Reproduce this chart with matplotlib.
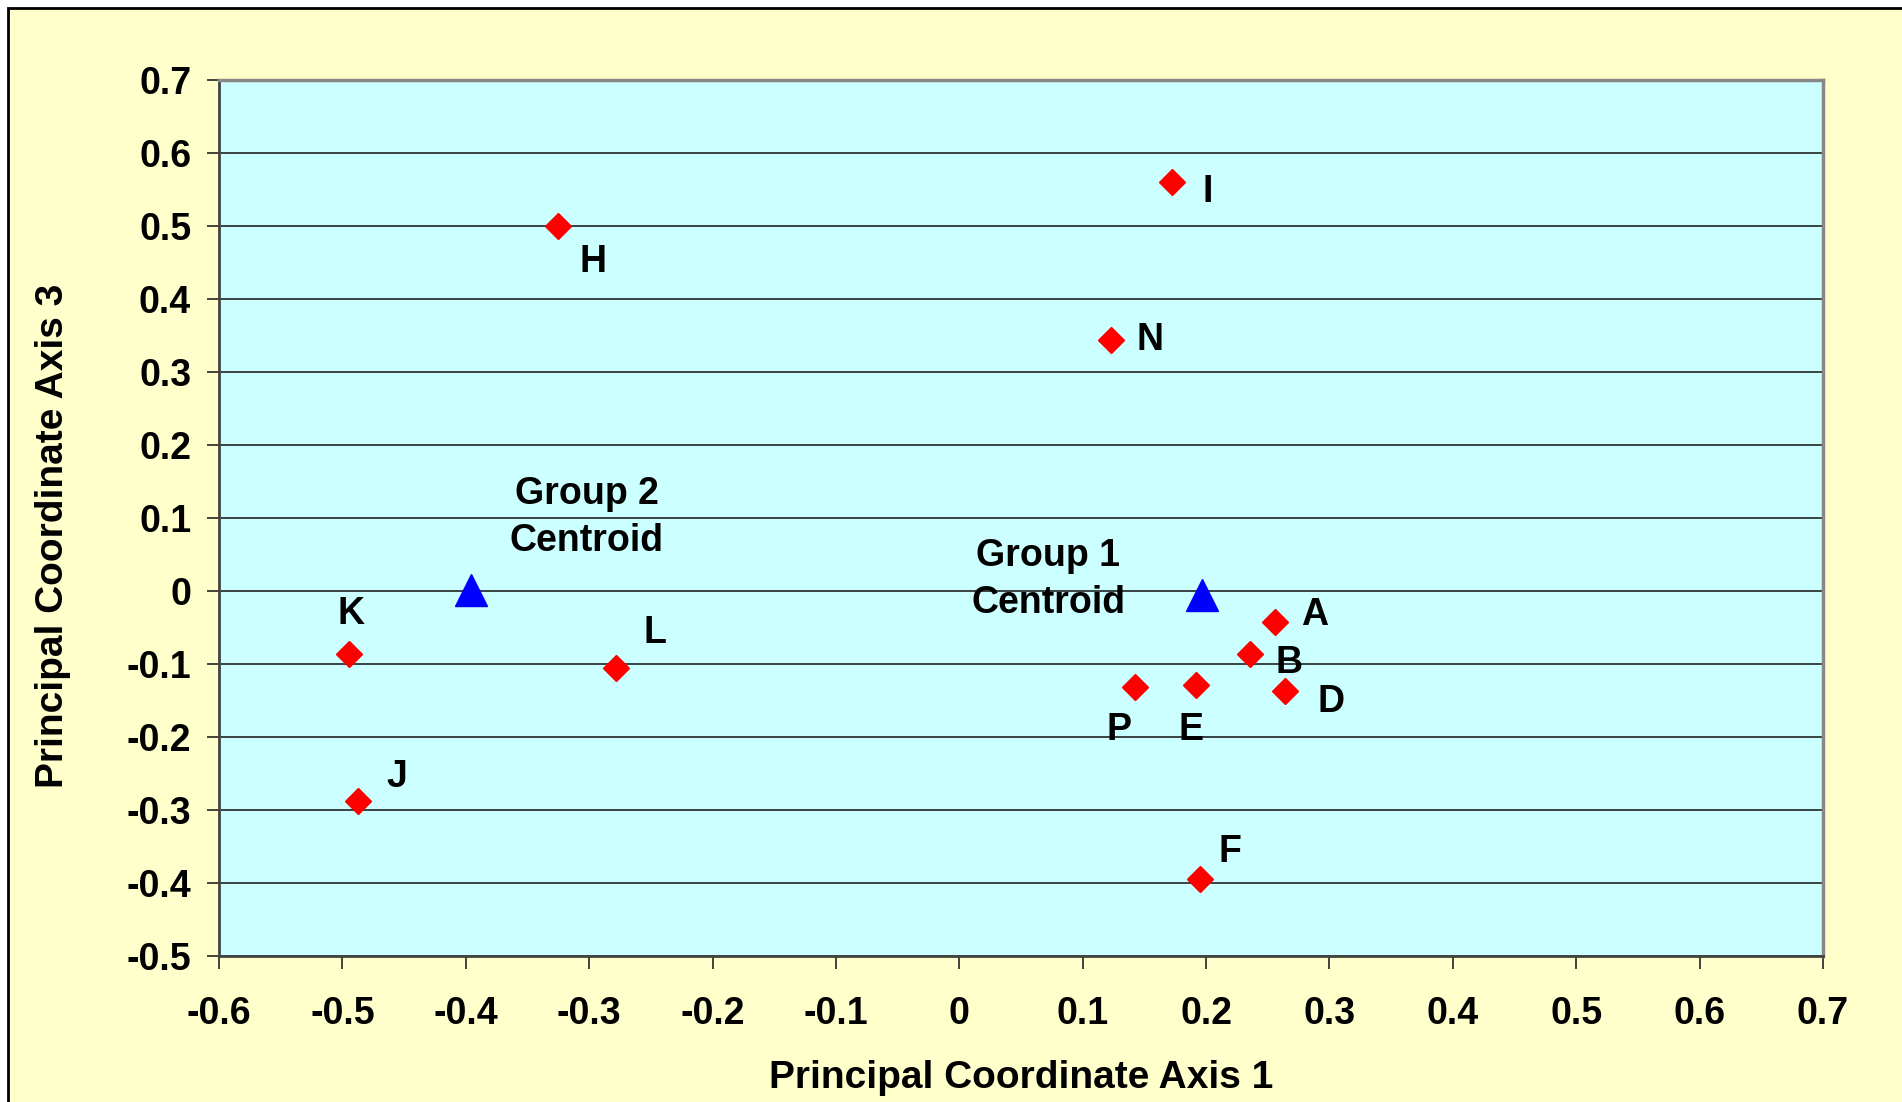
"""
Principal coordinate scatter: axis 1 vs axis 3 with group centroids.
"""

import matplotlib.pyplot as plt
from matplotlib.patches import Rectangle

# Sample points
point_labels = ["A", "B", "D", "E", "F", "H", "I", "J", "K", "L", "N", "P"]
axis1 = [0.256, 0.236, 0.264, 0.192, 0.195, -0.325, 0.172, -0.487, -0.495, -0.278, 0.123, 0.142]
axis3 = [-0.042, -0.086, -0.137, -0.129, -0.395, 0.500, 0.560, -0.288, -0.086, -0.105, 0.344, -0.132]

# Group centroids
centroid_labels = ["Group 1\nCentroid", "Group 2\nCentroid"]
centroid_axis1 = [0.197, -0.396]
centroid_axis3 = [-0.005, 0.002]

x_ticks = [round(-0.6 + 0.1 * i, 1) for i in range(14)]
y_ticks = [round(-0.5 + 0.1 * i, 1) for i in range(13)]

# label offsets in pixels (dx, dy)
point_offsets = {
    "A": (39, 7), "B": (39, -9), "D": (46, -11), "E": (-5, -45),
    "F": (30, 27), "H": (35, -36), "I": (36, -10), "J": (38, 24),
    "K": (2, 40), "L": (39, 35), "N": (39, 0), "P": (-16, -43),
}
centroid_offsets = [(-154, 15), (116, 72)]

plt.rcParams["font.family"] = ["Liberation Sans", "DejaVu Sans"]
plt.rcParams["font.weight"] = "bold"

fig = plt.figure(figsize=(19.02, 11.02), dpi=100, facecolor="white")
fig.patches.append(
    Rectangle(
        (8 / 1902, -0.1), 1.2, 1.1 - 8 / 1102,
        transform=fig.transFigure, facecolor="#FFFFCC",
        edgecolor="black", linewidth=2, zorder=-10,
    )
)

ax = fig.add_axes([219 / 1902, 1 - 956 / 1102, (1823 - 219) / 1902, (956 - 80) / 1102])
ax.set_facecolor("#CCFFFF")

ax.set_xlim(-0.6, 0.7)
ax.set_ylim(-0.5, 0.7)
ax.set_xticks(x_ticks)
ax.set_yticks(y_ticks)
ax.set_xticklabels([f"{t:g}" for t in x_ticks])
ax.set_yticklabels([f"{t:g}" for t in y_ticks])
ax.tick_params(axis="both", direction="out", length=9, width=1.2, color="#222222",
               labelsize=27)
ax.tick_params(axis="x", pad=20)
ax.tick_params(axis="y", pad=11)

ax.yaxis.grid(True, color="#222222", linewidth=1.2)
ax.set_axisbelow(True)

for side in ("top", "right"):
    ax.spines[side].set_color("#888888")
    ax.spines[side].set_linewidth(2.5)
for side in ("left", "bottom"):
    ax.spines[side].set_color("#444444")
    ax.spines[side].set_linewidth(2)

ax.plot(axis1, axis3, linestyle="none", marker="D", markersize=13.5,
        color="#FF0000", zorder=3)
ax.plot(centroid_axis1, centroid_axis3, linestyle="none", marker="^",
        markersize=23, color="#0000FF", zorder=3)

for lab, x, y in zip(point_labels, axis1, axis3):
    ax.annotate(lab, (x, y), xytext=point_offsets[lab], textcoords="offset pixels",
                ha="center", va="center", fontsize=27, fontweight="bold")

for lab, x, y, off in zip(centroid_labels, centroid_axis1, centroid_axis3, centroid_offsets):
    ax.annotate(lab, (x, y), xytext=off, textcoords="offset pixels",
                ha="center", va="center", fontsize=27, fontweight="bold",
                linespacing=1.4, multialignment="center")

ax.set_xlabel("Principal Coordinate Axis 1", fontsize=28, fontweight="bold", labelpad=20)
ax.set_ylabel("Principal Coordinate Axis 3", fontsize=28, fontweight="bold")
ax.yaxis.set_label_coords(-0.092, 0.48)

fig.savefig("out.png", dpi=100, facecolor=fig.get_facecolor())
